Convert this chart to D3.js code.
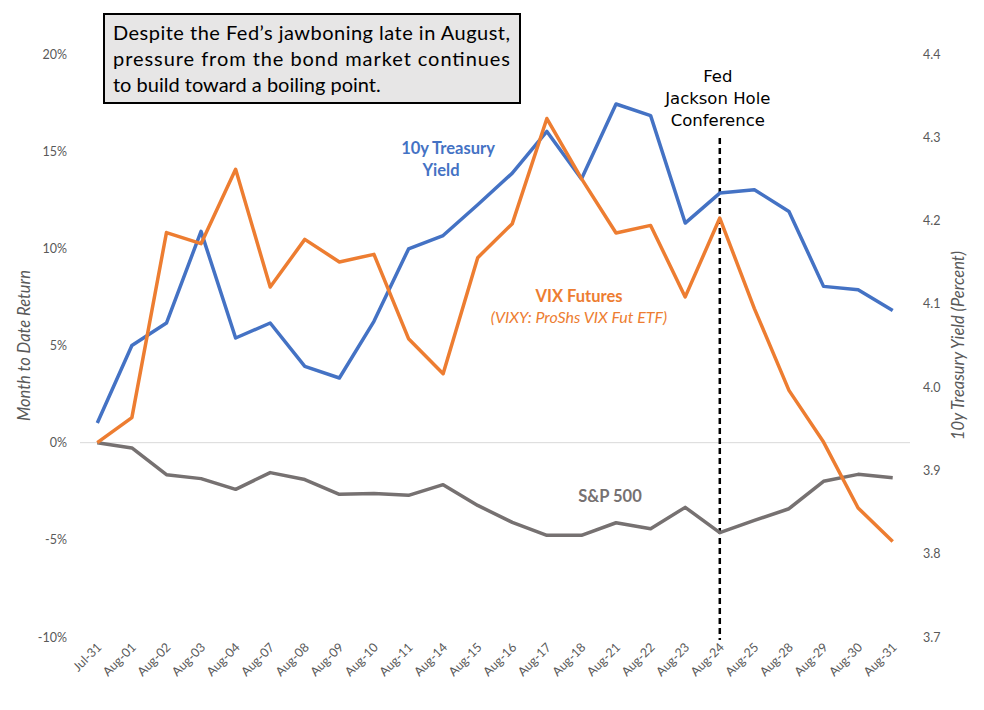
<!DOCTYPE html>
<html>
<head>
<meta charset="utf-8">
<script src="https://cdn.jsdelivr.net/npm/d3@7"></script>
<style>
  body { margin: 0; background: #fff; }
  svg { display: block; font-family: Lato, "Open Sans", sans-serif; }
</style>
</head>
<body>
<div id="chart"></div>
<script>
const width = 984, height = 710;
const margin = { top: 54, right: 74, bottom: 73, left: 80 };

const dates = ["Jul-31", "Aug-01", "Aug-02", "Aug-03", "Aug-04", "Aug-07", "Aug-08", "Aug-09",
  "Aug-10", "Aug-11", "Aug-14", "Aug-15", "Aug-16", "Aug-17", "Aug-18", "Aug-21", "Aug-22",
  "Aug-23", "Aug-24", "Aug-25", "Aug-28", "Aug-29", "Aug-30", "Aug-31"];
// month to date return, percent
const vixy = [0, 1.29, 10.81, 10.24, 14.07, 8.01, 10.46, 9.30, 9.69, 5.35, 3.55, 9.52,
  11.27, 16.68, 13.59, 10.79, 11.18, 7.50, 11.56, 6.90, 2.69, 0.03, -3.36, -5.08];
const spx = [0, -0.27, -1.65, -1.85, -2.40, -1.54, -1.90, -2.66, -2.61, -2.71, -2.16, -3.23,
  -4.10, -4.77, -4.77, -4.12, -4.43, -3.33, -4.63, -4.00, -3.40, -1.99, -1.63, -1.80];
// 10y treasury yield, percent
const yield10 = [3.957, 4.050, 4.077, 4.187, 4.059, 4.077, 4.025, 4.011, 4.079, 4.166, 4.182,
  4.219, 4.257, 4.307, 4.250, 4.340, 4.326, 4.197, 4.233, 4.237, 4.211, 4.121, 4.117, 4.092];
const leftTicks = [-10, -5, 0, 5, 10, 15, 20];
const rightTicks = [3.7, 3.8, 3.9, 4.0, 4.1, 4.2, 4.3, 4.4];
const eventDate = "Aug-24";

const blue = "#4472C4", orange = "#ED7D31", gray = "#767171", labelGray = "#595959";

const svg = d3.select("#chart").append("svg")
  .attr("width", width)
  .attr("height", height);

const x = d3.scaleBand()
  .domain(dates)
  .range([margin.left, width - margin.right]);
const cx = d => x(d) + x.bandwidth() / 2;

const yL = d3.scaleLinear().domain([-10, 20]).range([height - margin.bottom, margin.top]);
const yR = d3.scaleLinear().domain([3.7, 4.4]).range([height - margin.bottom, margin.top]);
const midY = (margin.top + height - margin.bottom) / 2;

// zero line
svg.append("line")
  .attr("x1", margin.left).attr("x2", width - margin.right)
  .attr("y1", yL(0)).attr("y2", yL(0))
  .attr("stroke", "#D9D9D9").attr("stroke-width", 1);

// left axis
const axL = svg.append("g")
  .attr("transform", `translate(${margin.left},0)`)
  .call(d3.axisLeft(yL).tickValues(leftTicks).tickSize(0).tickPadding(13).tickFormat(d => d + "%"));
axL.select(".domain").remove();
axL.selectAll("text").attr("fill", labelGray).style("font-size", "12.5px").style("font-family", "Lato, sans-serif");

// right axis
const axR = svg.append("g")
  .attr("transform", `translate(${width - margin.right},0)`)
  .call(d3.axisRight(yR).tickValues(rightTicks).tickSize(0).tickPadding(13).tickFormat(d3.format(".1f")));
axR.select(".domain").remove();
axR.selectAll("text").attr("fill", labelGray).style("font-size", "12.5px").style("font-family", "Lato, sans-serif");

// x axis labels
const axX = svg.append("g")
  .attr("transform", `translate(0,${height - margin.bottom})`)
  .call(d3.axisBottom(x).tickSize(0).tickPadding(0));
axX.select(".domain").remove();
axX.selectAll("text")
  .attr("fill", labelGray)
  .style("font-size", "12.5px")
  .style("font-family", "Lato, sans-serif")
  .attr("text-anchor", "end")
  .attr("dy", null)
  .attr("transform", "translate(5,11) rotate(-45)");

// axis titles
svg.append("text")
  .attr("transform", `translate(30,${midY}) rotate(-90)`)
  .attr("text-anchor", "middle")
  .attr("fill", labelGray)
  .style("font-size", "16.5px").style("font-style", "italic")
  .text("Month to Date Return");

svg.append("text")
  .attr("transform", `translate(964,${midY}) rotate(-90)`)
  .attr("text-anchor", "middle")
  .attr("fill", labelGray)
  .style("font-size", "16.5px").style("font-style", "italic")
  .text("10y Treasury Yield (Percent)");

// event line
svg.append("line")
  .attr("x1", cx(eventDate)).attr("x2", cx(eventDate))
  .attr("y1", 138).attr("y2", height - margin.bottom + 3)
  .attr("stroke", "#000").attr("stroke-width", 2.5)
  .attr("stroke-dasharray", "6,4");

svg.append("text")
  .attr("text-anchor", "middle")
  .style("font-family", "'Segoe Print', 'Comic Sans MS', 'DejaVu Sans', cursive")
  .style("font-size", "16.5px")
  .selectAll("tspan")
  .data(["Fed", "Jackson Hole", "Conference"])
  .join("tspan")
  .attr("x", cx(eventDate) - 2)
  .attr("y", (d, i) => 82 + i * 22)
  .text(d => d);

// series lines
const lineL = d3.line().x((d, i) => cx(dates[i])).y(d => yL(d));
const lineR = d3.line().x((d, i) => cx(dates[i])).y(d => yR(d));

svg.append("path").datum(spx)
  .attr("d", lineL).attr("fill", "none")
  .attr("stroke", gray).attr("stroke-width", 3.5).attr("stroke-linejoin", "round");

svg.append("path").datum(yield10)
  .attr("d", lineR).attr("fill", "none")
  .attr("stroke", blue).attr("stroke-width", 3.5).attr("stroke-linejoin", "round");

svg.append("path").datum(vixy)
  .attr("d", lineL).attr("fill", "none")
  .attr("stroke", orange).attr("stroke-width", 3.5).attr("stroke-linejoin", "round");

// series labels
const treas = svg.append("text")
  .attr("text-anchor", "middle").attr("fill", blue)
  .style("font-size", "16.5px").style("font-weight", "bold");
treas.append("tspan").attr("x", 448).attr("y", 154).text("10y Treasury");
treas.append("tspan").attr("x", 441).attr("y", 176).text("Yield");

svg.append("text")
  .attr("x", 579).attr("y", 302)
  .attr("text-anchor", "middle").attr("fill", orange)
  .style("font-size", "16.5px").style("font-weight", "bold")
  .text("VIX Futures");
svg.append("text")
  .attr("x", 579).attr("y", 323)
  .attr("text-anchor", "middle").attr("fill", orange)
  .style("font-size", "16px").style("font-style", "italic")
  .text("(VIXY: ProShs VIX Fut ETF)");

svg.append("text")
  .attr("x", 610).attr("y", 502)
  .attr("text-anchor", "middle").attr("fill", gray)
  .style("font-size", "16.5px").style("font-weight", "bold")
  .text("S&P 500");

// callout box
svg.append("rect")
  .attr("x", 104).attr("y", 14).attr("width", 416).attr("height", 89)
  .attr("fill", "#E7E6E6").attr("stroke", "#000").attr("stroke-width", 2);

const boxLines = [
  "Despite the Fed\u2019s jawboning late in August,",
  "pressure from the bond market continues",
  "to build toward a boiling point."
];
svg.append("g").selectAll("text")
  .data(boxLines)
  .join("text")
  .attr("x", 113)
  .attr("y", (d, i) => 40 + i * 26)
  .attr("fill", "#000")
  .style("font-size", "20px")
  .attr("textLength", (d, i) => i < 2 ? 397 : null)
  .attr("lengthAdjust", "spacing")
  .text(d => d);
</script>
</body>
</html>
